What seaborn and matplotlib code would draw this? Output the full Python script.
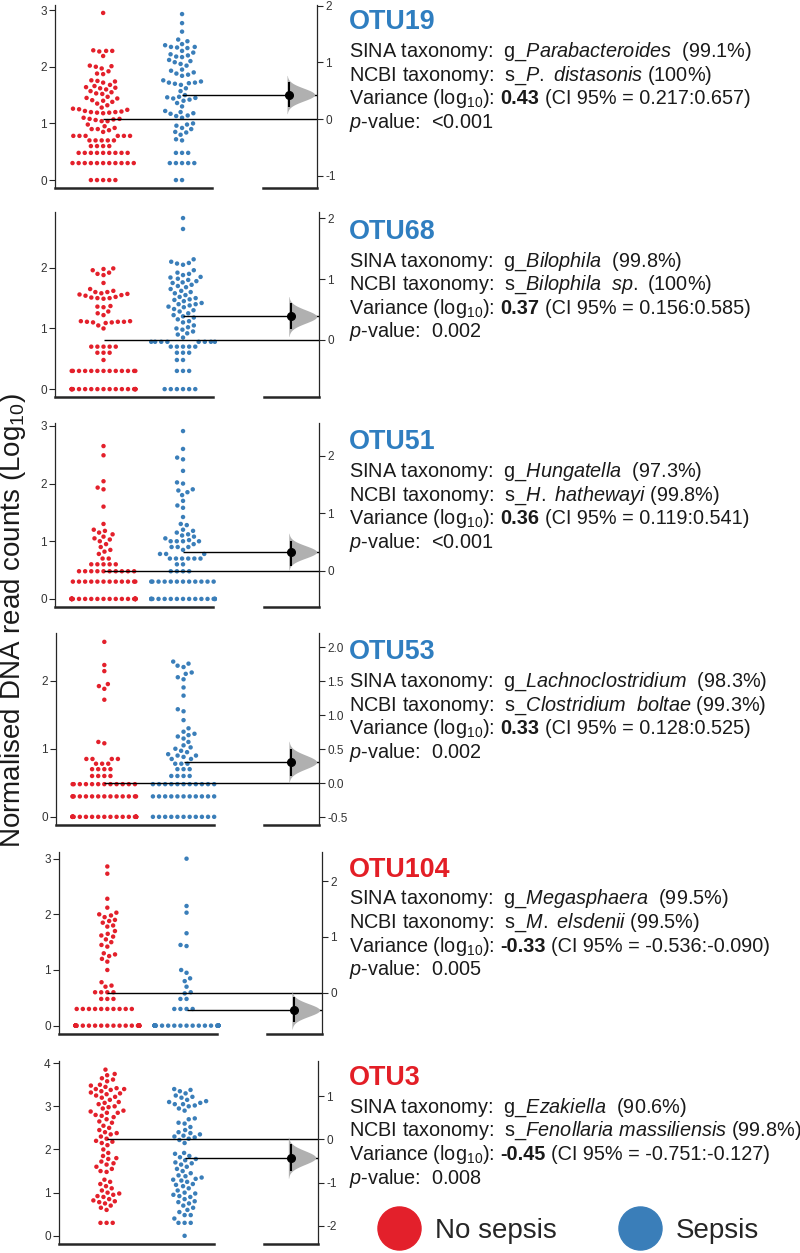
import numpy as np
import pandas as pd
import seaborn as sns
import matplotlib.pyplot as plt
from matplotlib.lines import Line2D

# ---- data (log10 normalised read counts) ----
groups = ["No sepsis", "Sepsis"]
otus = ["OTU19", "OTU68", "OTU51", "OTU53", "OTU104", "OTU3"]

no_sepsis_otu19 = [2.95, 2.29, 2.28, 2.28, 2.27, 2.19, 2.02, 2.01, 2.0, 1.97, 1.92, 1.88, 1.87,
                   1.76, 1.75, 1.74, 1.72, 1.68, 1.66, 1.64, 1.63, 1.62, 1.60, 1.57, 1.55, 1.53,
                   1.52, 1.47, 1.45, 1.44, 1.41, 1.40, 1.38, 1.35, 1.32, 1.28, 1.26, 1.25, 1.24,
                   1.22, 1.21, 1.20, 1.20, 1.19, 1.19, 1.18, 1.10, 1.08, 1.08, 1.07, 1.06, 1.04,
                   1.04, 0.98, 0.95, 0.92, 0.90, 0.90, 0.88, 0.85, 0.78, 0.78, 0.78, 0.78, 0.78,
                   0.78, 0.70, 0.70, 0.70, 0.70, 0.70, 0.60, 0.60, 0.60, 0.60, 0.48, 0.48, 0.48,
                   0.48, 0.48, 0.48, 0.48, 0.48, 0.48, 0.30, 0.30, 0.30, 0.30, 0.30, 0.30, 0.30,
                   0.30, 0.30, 0.30, 0.30, 0, 0, 0, 0, 0]
sepsis_otu19 = [2.93, 2.77, 2.62, 2.48, 2.45, 2.40, 2.38, 2.35, 2.35, 2.34, 2.33, 2.28, 2.25,
                2.22, 2.20, 2.18, 2.17, 2.12, 2.10, 2.08, 2.05, 2.02, 1.95, 1.93, 1.90, 1.88,
                1.86, 1.84, 1.76, 1.74, 1.72, 1.72, 1.71, 1.70, 1.68, 1.62, 1.57, 1.50, 1.47,
                1.46, 1.45, 1.44, 1.42, 1.40, 1.36, 1.30, 1.22, 1.20, 1.18, 1.17, 1.14, 1.13,
                1.10, 1.00, 0.98, 0.96, 0.92, 0.90, 0.85, 0.84, 0.80, 0.72, 0.70, 0.48, 0.48,
                0.48, 0.30, 0.30, 0.30, 0.30, 0.30, 0, 0]

no_sepsis_otu68 = [1.99, 1.98, 1.96, 1.92, 1.90, 1.88, 1.75, 1.65, 1.62, 1.60, 1.60, 1.58, 1.57,
                   1.56, 1.55, 1.54, 1.52, 1.51, 1.50, 1.50, 1.49, 1.37, 1.36, 1.35, 1.28, 1.25,
                   1.22, 1.12, 1.12, 1.11, 1.11, 1.11, 1.10, 1.10, 1.09, 1.05, 1.00, 0.70, 0.70,
                   0.70, 0.70, 0.70, 0.60, 0.60, 0.60, 0.48, 0.30, 0.30, 0.30, 0.30, 0.30, 0.30,
                   0.30, 0.30, 0.30, 0.30, 0.30, 0.30, 0.30, 0, 0, 0, 0, 0, 0, 0, 0, 0, 0, 0, 0,
                   0, 0, 0, 0, 0, 0, 0]
sepsis_otu68 = [2.82, 2.64, 2.14, 2.10, 2.08, 2.07, 2.05, 1.96, 1.92, 1.90, 1.88, 1.85, 1.84,
                1.82, 1.80, 1.78, 1.76, 1.75, 1.72, 1.70, 1.68, 1.65, 1.62, 1.60, 1.58, 1.55,
                1.52, 1.50, 1.48, 1.47, 1.45, 1.42, 1.40, 1.40, 1.38, 1.36, 1.35, 1.32, 1.30,
                1.28, 1.25, 1.22, 1.20, 1.18, 1.15, 1.12, 1.10, 1.05, 1.02, 1.00, 0.98, 0.95,
                0.92, 0.90, 0.85, 0.78, 0.78, 0.78, 0.78, 0.78, 0.78, 0.78, 0.78, 0.70, 0.70,
                0.70, 0.70, 0.70, 0.60, 0.60, 0.60, 0.48, 0.48, 0.30, 0.30, 0.30, 0, 0, 0, 0,
                0, 0]

no_sepsis_otu51 = [2.65, 2.49, 2.04, 1.93, 1.90, 1.60, 1.30, 1.20, 1.18, 1.15, 1.12, 1.08, 1.05,
                   1.03, 1.00, 0.95, 0.90, 0.85, 0.82, 0.78, 0.70, 0.70, 0.60, 0.60, 0.60, 0.60,
                   0.60, 0.48, 0.48, 0.48, 0.48, 0.48, 0.48, 0.48, 0.48, 0.48, 0.48, 0.30, 0.30,
                   0.30, 0.30, 0.30, 0.30, 0.30, 0.30, 0.30, 0.30, 0.30, 0.30, 0, 0, 0, 0, 0, 0,
                   0, 0, 0, 0, 0, 0, 0, 0, 0, 0, 0, 0, 0, 0, 0, 0, 0, 0, 0, 0, 0, 0, 0, 0, 0, 0, 0]
sepsis_otu51 = [2.91, 2.60, 2.45, 2.42, 2.22, 2.02, 2.00, 1.90, 1.88, 1.85, 1.80, 1.70, 1.62,
                1.58, 1.42, 1.30, 1.28, 1.20, 1.18, 1.15, 1.12, 1.10, 1.08, 1.05, 1.02, 1.00,
                1.00, 1.00, 1.00, 0.95, 0.90, 0.90, 0.90, 0.85, 0.78, 0.78, 0.78, 0.70, 0.70,
                0.70, 0.70, 0.70, 0.70, 0.60, 0.60, 0.48, 0.48, 0.48, 0.48, 0.30, 0.30, 0.30,
                0.30, 0.30, 0.30, 0.30, 0.30, 0.30, 0.30, 0.30, 0.30, 0, 0, 0, 0, 0, 0, 0, 0,
                0, 0, 0, 0, 0, 0, 0, 0, 0]

no_sepsis_otu53 = [2.57, 2.23, 2.14, 1.95, 1.92, 1.88, 1.72, 1.10, 1.08, 0.85, 0.85, 0.85, 0.85,
                   0.78, 0.78, 0.78, 0.70, 0.70, 0.70, 0.70, 0.60, 0.60, 0.60, 0.60, 0.48, 0.48,
                   0.48, 0.48, 0.48, 0.48, 0.48, 0.48, 0.48, 0.48, 0.48, 0.48, 0.30, 0.30, 0.30,
                   0.30, 0.30, 0.30, 0.30, 0.30, 0.30, 0.30, 0.30, 0.30, 0.30, 0.30, 0, 0, 0, 0,
                   0, 0, 0, 0, 0, 0, 0, 0, 0, 0, 0, 0, 0, 0, 0, 0, 0, 0, 0, 0, 0, 0]
sepsis_otu53 = [2.28, 2.25, 2.22, 2.20, 2.12, 2.10, 2.05, 2.02, 1.90, 1.78, 1.58, 1.55, 1.42,
                1.30, 1.25, 1.22, 1.20, 1.18, 1.15, 1.10, 1.05, 1.02, 1.00, 0.97, 0.95, 0.92,
                0.90, 0.90, 0.88, 0.85, 0.85, 0.78, 0.78, 0.78, 0.70, 0.70, 0.70, 0.60, 0.60,
                0.60, 0.60, 0.48, 0.48, 0.48, 0.48, 0.48, 0.48, 0.48, 0.48, 0.48, 0.48, 0.48,
                0.30, 0.30, 0.30, 0.30, 0.30, 0.30, 0.30, 0.30, 0.30, 0.30, 0.30, 0, 0, 0, 0,
                0, 0, 0, 0, 0, 0, 0]

no_sepsis_otu104 = [2.86, 2.73, 2.28, 2.12, 2.03, 2.00, 1.98, 1.95, 1.90, 1.88, 1.85, 1.80, 1.78,
                    1.70, 1.65, 1.62, 1.60, 1.55, 1.50, 1.45, 1.42, 1.30, 1.28, 1.25, 1.20, 1.15,
                    1.00, 0.78, 0.72, 0.70, 0.60, 0.60, 0.60, 0.60, 0.48, 0.48, 0.48, 0.30, 0.30,
                    0.30, 0.30, 0.30, 0.30, 0.30, 0.30, 0.30, 0.30,
                    0, 0, 0, 0, 0, 0, 0, 0, 0, 0, 0, 0, 0, 0, 0, 0, 0, 0, 0, 0, 0, 0, 0, 0, 0, 0,
                    0, 0, 0, 0, 0, 0, 0, 0, 0, 0, 0, 0, 0, 0, 0, 0, 0, 0, 0, 0, 0]
sepsis_otu104 = [3.00, 2.15, 2.03, 1.66, 1.45, 1.43, 1.00, 0.95, 0.85, 0.80, 0.70, 0.60, 0.58,
                 0.48, 0.48, 0.30, 0.30, 0.30, 0.30,
                 0, 0, 0, 0, 0, 0, 0, 0, 0, 0, 0, 0, 0, 0, 0, 0, 0, 0, 0, 0, 0, 0, 0, 0, 0, 0,
                 0, 0, 0, 0, 0, 0, 0, 0, 0, 0, 0, 0, 0, 0, 0, 0, 0, 0, 0, 0, 0, 0, 0, 0]

no_sepsis_otu3 = [3.85, 3.75, 3.72, 3.65, 3.62, 3.58, 3.50, 3.48, 3.45, 3.42, 3.40, 3.40, 3.38,
                  3.35, 3.32, 3.30, 3.28, 3.25, 3.22, 3.20, 3.15, 3.10, 3.08, 3.05, 3.00, 2.98,
                  2.95, 2.90, 2.88, 2.85, 2.85, 2.80, 2.78, 2.75, 2.70, 2.65, 2.62, 2.55, 2.50,
                  2.45, 2.40, 2.38, 2.35, 2.30, 2.25, 2.20, 2.18, 2.15, 2.10, 2.00, 1.92, 1.85,
                  1.80, 1.78, 1.72, 1.68, 1.65, 1.60, 1.55, 1.50, 1.48, 1.30, 1.25, 1.20, 1.15,
                  1.10, 1.05, 1.00, 0.98, 0.95, 0.92, 0.90, 0.85, 0.82, 0.80, 0.78, 0.75, 0.70,
                  0.65, 0.60, 0.30, 0.30, 0.30]
sepsis_otu3 = [3.40, 3.38, 3.35, 3.30, 3.25, 3.22, 3.20, 3.15, 3.12, 3.10, 3.08, 3.05, 3.05,
               3.02, 3.00, 2.95, 2.90, 2.72, 2.70, 2.62, 2.60, 2.52, 2.45, 2.40, 2.38, 2.35,
               2.32, 2.30, 2.28, 2.25, 2.22, 2.15, 1.92, 1.90, 1.85, 1.82, 1.78, 1.75, 1.70,
               1.68, 1.65, 1.60, 1.55, 1.50, 1.45, 1.40, 1.38, 1.35, 1.32, 1.30, 1.28, 1.25,
               1.20, 1.18, 1.15, 1.10, 1.05, 1.00, 0.98, 0.95, 0.92, 0.90, 0.85, 0.80, 0.78,
               0.75, 0.70, 0.65, 0.60, 0.55, 0.48, 0.48, 0.40, 0.30, 0.30, 0.30, 0.00]

no_sepsis = [no_sepsis_otu19, no_sepsis_otu68, no_sepsis_otu51,
             no_sepsis_otu53, no_sepsis_otu104, no_sepsis_otu3]
sepsis = [sepsis_otu19, sepsis_otu68, sepsis_otu51,
          sepsis_otu53, sepsis_otu104, sepsis_otu3]

effect = [0.43, 0.37, 0.36, 0.33, -0.33, -0.45]
ci_low = [0.217, 0.156, 0.119, 0.128, -0.536, -0.751]
ci_high = [0.657, 0.585, 0.541, 0.525, -0.090, -0.127]
effect_text = ["0.43", "0.37", "0.36", "0.33", "-0.33", "-0.45"]
ci_text = ["0.217:0.657", "0.156:0.585", "0.119:0.541", "0.128:0.525",
           "-0.536:-0.090", "-0.751:-0.127"]
p_values = ["<0.001", "0.002", "<0.001", "0.002", "0.005", "0.008"]
sina = [("Parabacteroides", "99.1%"), ("Bilophila", "99.8%"), ("Hungatella", "97.3%"),
        ("Lachnoclostridium", "98.3%"), ("Megasphaera", "99.5%"), ("Ezakiella", "90.6%")]
ncbi = [("P.\\ distasonis", "100%"), ("Bilophila\\ \\ sp.", "100%"),
        ("H.\\ hathewayi", "99.8%"), ("Clostridium\\ \\ boltae", "99.3%"),
        ("M.\\ elsdenii", "99.5%"), ("Fenollaria\\ massiliensis", "99.8%")]

left_ticks = [[0, 1, 2, 3], [0, 1, 2], [0, 1, 2, 3], [0, 1, 2], [0, 1, 2, 3], [0, 1, 2, 3, 4]]
right_ticks = [[-1, 0, 1, 2], [0, 1, 2], [0, 1, 2], [-0.5, 0, 0.5, 1.0, 1.5, 2.0],
               [0, 1, 2], [-2, -1, 0, 1]]
right_labels = [["-1", "0", "1", "2"], ["0", "1", "2"], ["0", "1", "2"],
                ["-0.5", "0.0", "0.5", "1.0", "1.5", "2.0"], ["0", "1", "2"],
                ["-2", "-1", "0", "1"]]

# ---- layout (pixels) ----
W, H = 800, 1253
panel_top = [5, 212, 423, 633, 852, 1061]
panel_bot = [188, 397, 607, 825, 1034, 1244]
panel_left = [55, 55, 55, 56, 59, 59]
panel_right = [317, 319, 319, 319, 322, 318]
ylims = [(-0.14, 3.09), (-0.13, 2.92), (-0.14, 3.05), (-0.12, 2.70), (-0.15, 3.12), (-0.19, 4.05)]
title_base = [29.3, 239, 449.3, 659.3, 876.7, 1085]

red = "#e3202b"
blue = "#3a7eb9"
palette = {"No sepsis": red, "Sepsis": blue}
title_colors = ["#2f7ec0", "#2f7ec0", "#2f7ec0", "#2f7ec0", "#e31e26", "#e31e26"]

sns.set_style("ticks")
plt.rcParams["font.family"] = ["Liberation Sans", "DejaVu Sans"]
plt.rcParams["mathtext.fontset"] = "custom"
plt.rcParams["mathtext.rm"] = "Liberation Sans"
plt.rcParams["mathtext.it"] = "Liberation Sans:italic"
plt.rcParams["mathtext.bf"] = "Liberation Sans:bold"
plt.rcParams["axes.unicode_minus"] = False

fig = plt.figure(figsize=(W / 100, H / 100), dpi=100)
renderer = fig.canvas.get_renderer()

x_lo, x_hi, x_diff = -0.61, 2.71, 2.36
txt_size = 14.3
txt_color = "#1a1a1a"
gap = 5.5  # one space, in pixels


def put_text(x_px, y_px, s, **kw):
    t = fig.text(x_px / W, 1 - y_px / H, s, fontsize=txt_size, color=txt_color,
                 va="baseline", **kw)
    return t.get_window_extent(renderer).x1


for i, otu in enumerate(otus):
    top, bot = panel_top[i], panel_bot[i]
    l, r = panel_left[i], panel_right[i]
    ax = fig.add_axes([l / W, 1 - bot / H, (r - l) / W, (bot - top) / H])

    df = pd.DataFrame({
        "group": ["No sepsis"] * len(no_sepsis[i]) + ["Sepsis"] * len(sepsis[i]),
        "value": no_sepsis[i] + sepsis[i],
    })
    # invisible edge widens the swarm spacing a little, like the original
    sns.swarmplot(data=df, x="group", y="value", hue="group", order=groups,
                  hue_order=groups, palette=palette, size=3.2, linewidth=1.0,
                  edgecolor="none", legend=False, warn_thresh=1, ax=ax)

    m0 = np.mean(no_sepsis[i])
    m1 = np.mean(sepsis[i])
    diff = m1 - m0

    ax.set_xlim(x_lo, x_hi)
    ax.set_ylim(*ylims[i])
    ax.set_yticks(left_ticks[i])
    ax.set_xticks([])
    ax.set_xlabel("")
    ax.set_ylabel("")
    ax.spines["top"].set_visible(False)
    ax.spines["right"].set_visible(False)
    ax.spines["bottom"].set_bounds(x_lo, 1.38)
    ax.spines["bottom"].set_linewidth(1.8)
    ax.spines["left"].set_linewidth(0.9)
    ax.tick_params(axis="y", labelsize=8.5, length=4, width=0.8, pad=2,
                   labelcolor="#333333")

    # group mean lines running to the effect-size axis
    ax.hlines(m0, 0, x_hi, color="black", lw=1, clip_on=False, zorder=3)
    ax.hlines(m1, 1, x_hi, color="black", lw=1, clip_on=False, zorder=3)

    ax2 = ax.twinx()
    ax2.set_ylim(ylims[i][0] - m0, ylims[i][1] - m0)
    ax2.set_yticks(right_ticks[i], right_labels[i])
    ax2.spines["top"].set_visible(False)
    ax2.spines["left"].set_visible(False)
    ax2.spines["bottom"].set_bounds(2.02, x_hi)
    ax2.spines["bottom"].set_linewidth(1.8)
    ax2.spines["right"].set_linewidth(0.9)
    ax2.tick_params(axis="y", labelsize=8.5, length=4, width=0.8, pad=2,
                    labelcolor="#333333")

    # half violin of the mean difference, shaped from the reported CI
    lo = diff + (ci_low[i] - effect[i])
    hi = diff + (ci_high[i] - effect[i])
    sd = (ci_high[i] - ci_low[i]) / 3.92
    yy = np.linspace(diff - 3 * sd, diff + 3 * sd, 200)
    dens = np.exp(-0.5 * ((yy - diff) / sd) ** 2)
    ax2.fill_betweenx(yy, x_diff - 0.03, x_diff - 0.03 + 0.35 * dens,
                      color="#b0b0b0", lw=0, zorder=2)
    ax2.vlines(x_diff, lo, hi, color="black", lw=1.5, zorder=4)
    ax2.plot([x_diff], [diff], "o", color="black", markersize=5.5, zorder=5)

    # text block
    xt = 349
    tb = title_base[i]
    fig.text(xt / W, 1 - tb / H, otu, fontsize=19.4, fontweight="bold",
             color=title_colors[i], va="baseline")
    y1 = tb + 27.4
    put_text(xt, y1, r"SINA taxonomy:  g_$\mathit{%s}$  (%s)" % sina[i])
    put_text(xt, y1 + 23.7, r"NCBI taxonomy:  s_$\mathit{%s}$ (%s)" % ncbi[i])
    x1 = put_text(xt, y1 + 47.4, r"Variance (log$_{10}$):")
    x2 = put_text(x1 + gap, y1 + 47.4, effect_text[i], fontweight="bold")
    put_text(x2 + gap, y1 + 47.4, "(CI 95%% = %s)" % ci_text[i])
    put_text(xt, y1 + 71.1, r"$\mathit{p}$-value:  %s" % p_values[i])

fig.text(13 / W, 1 - 621 / H, r"Normalised DNA read counts (Log$_{10}$)",
         rotation=90, fontsize=20, ha="center", va="center", color=txt_color)

handles = [Line2D([], [], ls="", marker="o", markersize=31, color=red),
           Line2D([], [], ls="", marker="o", markersize=31, color=blue)]
fig.legend(handles, groups, loc="center", bbox_to_anchor=(568 / W, 1 - 1231 / H),
           ncol=2, frameon=False, fontsize=20, handlelength=1.6,
           handletextpad=0.5, columnspacing=2.2)

fig.savefig("out.png", dpi=100)
